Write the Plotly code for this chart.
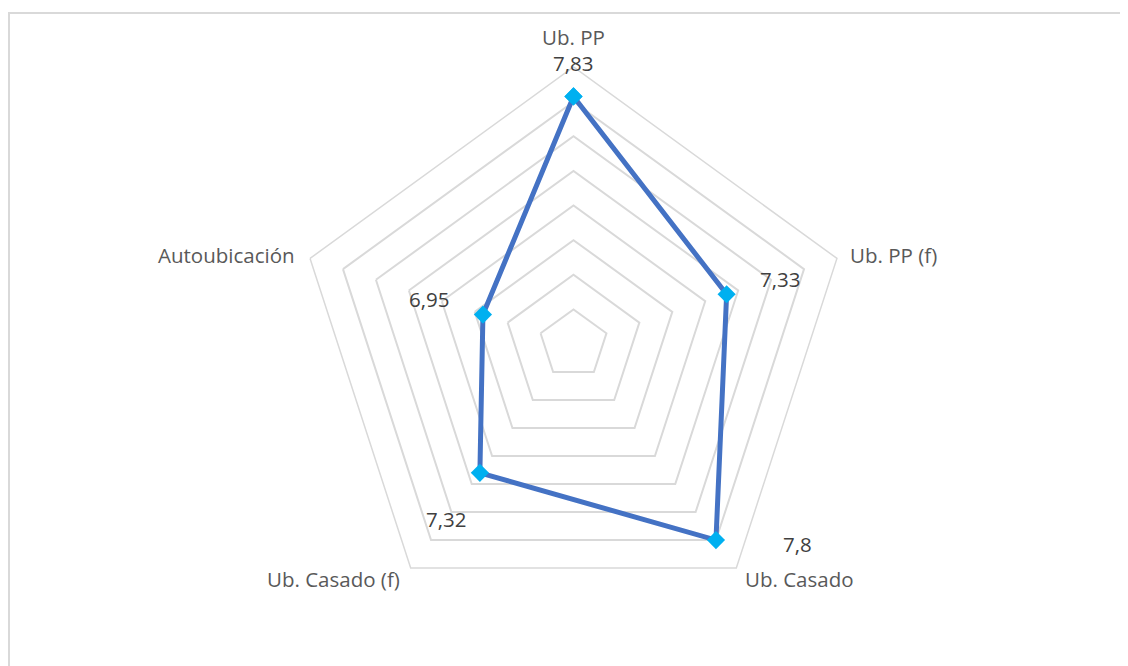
import plotly.graph_objects as go

categories = ["Ub. PP", "Ub. PP (f)", "Ub. Casado", "Ub. Casado (f)", "Autoubicación"]
values = [7.83, 7.33, 7.8, 7.32, 6.95]
value_labels = [f"{v:g}".replace(".", ",") for v in values]

W, H = 1128, 666
PAGE_OFF = 8          # browser body margin
CX, CY, R = 573.5, 344, 277  # polar centre/radius in screenshot px

def paper(x, y):
    return (x - PAGE_OFF) / W, 1 - (y - PAGE_OFF) / H

# data-label positions (screenshot px), Excel-style manual placement
label_px = [(573, 63), (780, 279), (797, 544), (446, 519), (429, 299)]
# category label anchors: (x, y, xanchor)
cat_px = [(573.5, 37, "center"), (848, 255, "left"), (743, 579, "left"),
          (402, 579, "right"), (297, 255, "right")]

fig = go.Figure()
fig.add_trace(go.Scatterpolar(
    r=values + values[:1],
    theta=categories + categories[:1],
    mode="lines+markers",
    line=dict(color="#4472C4", width=5),
    marker=dict(symbol="diamond", size=14, color="#00B0F0"),
    cliponaxis=False,
    hoverinfo="skip",
))

annotations = []
for txt, (px, py) in zip(value_labels, label_px):
    x, y = paper(px, py)
    annotations.append(dict(
        x=x, y=y, xref="paper", yref="paper",
        text=txt, showarrow=False, xanchor="center", yanchor="middle",
        font=dict(family="Open Sans", size=20.5, color="#404040"),
    ))
for txt, (px, py, xa) in zip(categories, cat_px):
    x, y = paper(px, py)
    annotations.append(dict(
        x=x, y=y, xref="paper", yref="paper",
        text=txt, showarrow=False, xanchor=xa, yanchor="middle",
        font=dict(family="Open Sans", size=20.5, color="#595959"),
    ))

x0, y1 = paper(CX - R, CY - R)
x1, y0 = paper(CX + R, CY + R)
bx0, by1 = paper(9, 13)

fig.update_layout(
    width=W, height=H,
    margin=dict(l=0, r=0, t=0, b=0),
    paper_bgcolor="white",
    showlegend=False,
    font=dict(family="Open Sans", size=20.5, color="#595959"),
    polar=dict(
        domain=dict(x=[x0, x1], y=[y0, y1]),
        bgcolor="white",
        gridshape="linear",
        radialaxis=dict(range=[6.4, 8.0], dtick=0.2, tick0=6.4, showticklabels=False,
                        ticks="", showline=False, gridcolor="#D9D9D9", gridwidth=1.5),
        angularaxis=dict(rotation=90, direction="clockwise", showgrid=False,
                         showticklabels=False,
                         linecolor="#D9D9D9", linewidth=1.5, ticks=""),
    ),
    annotations=annotations,
    shapes=[dict(type="rect", xref="paper", yref="paper",
                 x0=bx0, x1=1.05, y0=-0.05, y1=by1,
                 line=dict(color="#D9D9D9", width=2), layer="below")],
)

fig.write_html("out.html")
